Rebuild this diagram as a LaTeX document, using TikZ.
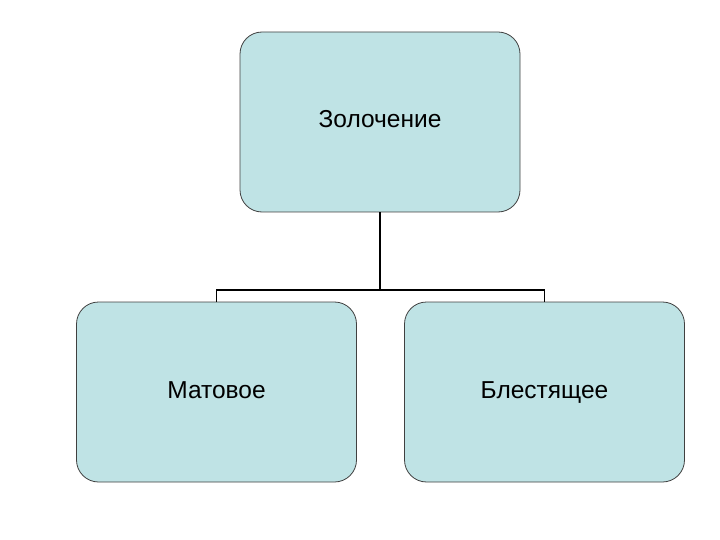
\documentclass[tikz,border=0pt]{standalone}
\usepackage{fontspec}
\setmainfont{Liberation Sans}
\begin{document}
\begin{tikzpicture}[x=1pt,y=-1pt,
  box/.style={draw=black!75,line width=0.8pt,fill=boxfill,rounded corners=22pt,minimum width=280pt,minimum height=180pt,text height=17pt,text depth=5pt,font=\fontsize{24.5}{28}\selectfont},
  conn/.style={line width=1.8pt}]
\definecolor{boxfill}{HTML}{BFE3E5}
\useasboundingbox (0,0) rectangle (720,540);
\node[box] (top) at (380,122) {Золочение};
\node[box] (left) at (216.5,392) {Матовое};
\node[box] (right) at (544.5,392) {Блестящее};
\coordinate (j) at (380,290);
\draw[conn] (top.south) -- (j);
\draw[conn] (left.north) -- (216.5,290) -- (544.5,290) -- (right.north);
\end{tikzpicture}
\end{document}
